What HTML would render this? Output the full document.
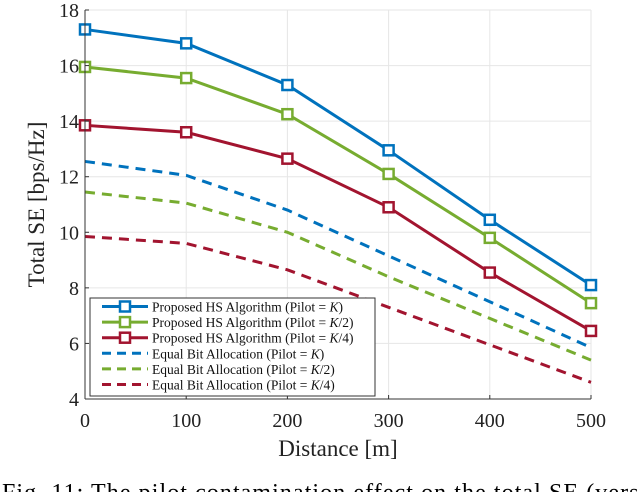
<!DOCTYPE html>
<html><head><meta charset="utf-8"><style>
body{margin:0;background:#fff;}
svg text{font-family:"Liberation Serif",serif;}
</style></head><body>
<svg width="640" height="492" viewBox="0 0 640 492">
<g id="grid"></g><g id="series"></g><g id="axes"></g><g id="legend"></g>
<text x="2" y="500" font-size="24" textLength="660" lengthAdjust="spacing">Fig. 11: The pilot contamination effect on the total SE (versus</text>
</svg>
<script>
const distances=[0,100,200,300,400,500];
const xTicks=[0,100,200,300,400,500];
const yTicks=[4,6,8,10,12,14,16,18];
const hsK=[17.3,16.8,15.3,12.95,10.45,8.1];
const hsK2=[15.95,15.55,14.25,12.1,9.8,7.45];
const hsK4=[13.85,13.6,12.65,10.9,8.55,6.45];
const ebK=[12.55,12.05,10.8,9.15,7.5,5.85];
const ebK2=[11.45,11.05,10.0,8.4,6.9,5.4];
const ebK4=[9.85,9.6,8.65,7.3,5.95,4.6];
const NS="http://www.w3.org/2000/svg";
const X0=85,X1=591,Y0=399,Y1=10;
const xs=v=>X0+(v-0)/500*(X1-X0);
const ys=v=>Y0-(v-4)/14*(Y0-Y1);
function mk(t,a,p){const e=document.createElementNS(NS,t);for(const k in a)e.setAttribute(k,a[k]);p.appendChild(e);return e;}
const grid=document.getElementById('grid'),axes=document.getElementById('axes'),ser=document.getElementById('series'),leg=document.getElementById('legend');
mk('rect',{x:X0,y:Y1,width:X1-X0,height:Y0-Y1,fill:'#fff'},grid);
xTicks.forEach(t=>{const l=mk('line',{x1:xs(t),x2:xs(t),y1:Y1,y2:Y0,stroke:'#e6e6e6'},grid);

const tx=mk('text',{x:xs(t),y:Y0+28,'font-size':20,'text-anchor':'middle',fill:'#222'},axes);tx.textContent=t;

mk('line',{x1:xs(t),x2:xs(t),y1:Y0,y2:Y0-4,stroke:'#333'},axes);});
yTicks.forEach(t=>{const l=mk('line',{x1:X0,x2:X1,y1:ys(t),y2:ys(t),stroke:'#e6e6e6'},grid);

const tx=mk('text',{x:X0-6,y:ys(t)+7,'font-size':20,'text-anchor':'end',fill:'#222'},axes);tx.textContent=t;

mk('line',{x1:X0,x2:X0+4,y1:ys(t),y2:ys(t),stroke:'#333'},axes);});
mk('line',{x1:X0,x2:X1,y1:Y0,y2:Y0,stroke:'#333'},axes);
mk('line',{x1:X0,x2:X0,y1:Y0,y2:Y1,stroke:'#333'},axes);
const xt=mk('text',{x:(X0+X1)/2,y:456,'font-size':23,'text-anchor':'middle',fill:'#222'},axes);xt.textContent='Distance [m]';

const yt=mk('text',{x:0,y:0,'font-size':23,'text-anchor':'middle',fill:'#222',transform:`translate(44,${(Y0+Y1)/2}) rotate(-90)`},axes);yt.textContent='Total SE [bps/Hz]';

const blue='#0072bd',green='#77ac30',red='#a2142f';
const series=[
{d:hsK,c:blue,dash:false,n:'hs-pilot-k',lab:'Proposed HS Algorithm (Pilot = K)'},
{d:hsK2,c:green,dash:false,n:'hs-pilot-k2',lab:'Proposed HS Algorithm (Pilot = K/2)'},
{d:hsK4,c:red,dash:false,n:'hs-pilot-k4',lab:'Proposed HS Algorithm (Pilot = K/4)'},
{d:ebK,c:blue,dash:true,n:'eb-pilot-k',lab:'Equal Bit Allocation (Pilot = K)'},
{d:ebK2,c:green,dash:true,n:'eb-pilot-k2',lab:'Equal Bit Allocation (Pilot = K/2)'},
{d:ebK4,c:red,dash:true,n:'eb-pilot-k4',lab:'Equal Bit Allocation (Pilot = K/4)'}];
series.slice().reverse().forEach(s=>{
const pts=s.d.map((v,i)=>xs(distances[i])+','+ys(v)).join(' ');
const pl=mk('polyline',{points:pts,fill:'none',stroke:s.c,'stroke-width':3,'stroke-dasharray':s.dash?'10,7':'none'},ser);

if(!s.dash)s.d.forEach((v,i)=>{const r=mk('rect',{x:xs(distances[i])-5,y:ys(v)-5,width:10,height:10,fill:'#fff',stroke:s.c,'stroke-width':2.5},ser);
});});
const lb=mk('rect',{x:90,y:298,width:285,height:98,fill:'#fff',stroke:'#333','stroke-width':1},leg);

series.forEach((s,i)=>{const y=306.5+i*15.6;
const g=mk('g',{},leg);
mk('line',{x1:102,x2:148,y1:y,y2:y,stroke:s.c,'stroke-width':3,'stroke-dasharray':s.dash?'9,6':'none'},g);
if(!s.dash)mk('rect',{x:120,y:y-5,width:10,height:10,fill:'#fff',stroke:s.c,'stroke-width':2.5},g);
const parts=s.lab.split('K');
const t=mk('text',{x:152,y:y+5,'font-size':13.5,fill:'#111'},g);
t.appendChild(document.createTextNode(parts[0]));
const k=mk('tspan',{'font-style':'italic'},t);k.textContent='K';
t.appendChild(document.createTextNode(parts[1]));});
</script>
</body></html>
